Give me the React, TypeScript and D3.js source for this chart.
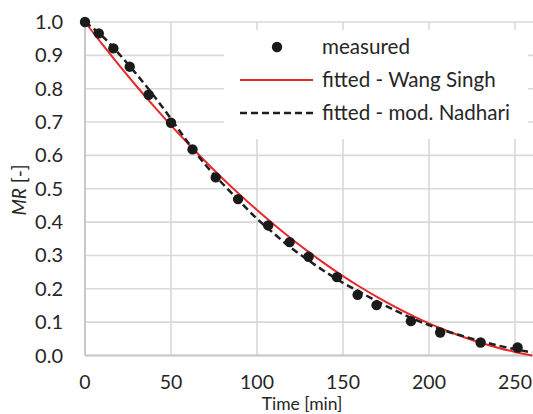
import React from "react";
import * as d3 from "d3";

const measuredTime = [0, 8, 16.5, 26, 37, 50, 62.5, 76, 89, 106.5, 119, 130, 146.5, 158.5, 169.5, 189.5, 206.5, 230, 251.5];
const measuredMR = [1.0, 0.966, 0.921, 0.866, 0.782, 0.698, 0.618, 0.534, 0.469, 0.39, 0.34, 0.296, 0.235, 0.182, 0.151, 0.103, 0.069, 0.039, 0.024];

const fitTime = [0, 10, 20, 30, 40, 50, 60, 70, 80, 90, 100, 110, 120, 130, 140, 150, 160, 170, 180, 190, 200, 210, 220, 230, 240, 250, 260];
const wangSinghMR = [1.0, 0.9335, 0.8693, 0.8073, 0.7475, 0.69, 0.6348, 0.5817, 0.5309, 0.4824, 0.4361, 0.392, 0.3502, 0.3106, 0.2733, 0.2382, 0.2054, 0.1748, 0.1464, 0.1203, 0.0964, 0.0748, 0.0554, 0.0382, 0.0233, 0.0106, 0.0002];
const nadhariMR = [1.0, 0.958, 0.903, 0.843, 0.779, 0.71, 0.638, 0.572, 0.515, 0.462, 0.41, 0.365, 0.322, 0.285, 0.25, 0.218, 0.19, 0.162, 0.136, 0.112, 0.091, 0.073, 0.058, 0.043, 0.03, 0.019, 0.009];

const xTicks = [0, 50, 100, 150, 200, 250];
const yTicks = [0, 0.1, 0.2, 0.3, 0.4, 0.5, 0.6, 0.7, 0.8, 0.9, 1.0];
const legendLabels = ["measured", "fitted - Wang Singh", "fitted - mod. Nadhari"];

const W = 533;
const H = 414;
const FONT = "Lato, 'Open Sans', sans-serif";

export default function App() {
  const x = d3.scaleLinear().domain([0, 260]).range([85, 532.2]);
  const y = d3.scaleLinear().domain([0, 1]).range([355.5, 22]);
  const line = d3
    .line<[number, number]>()
    .x((d) => x(d[0]))
    .y((d) => y(d[1]))
    .curve(d3.curveMonotoneX);
  const wsData = fitTime.map((t, i) => [t, wangSinghMR[i]] as [number, number]);
  const nData = fitTime.map((t, i) => [t, nadhariMR[i]] as [number, number]);
  const grid = "#d9d9d9";
  const lg = { x0: 224, x1: 528, y0: 30, y1: 139 };
  const rowY = [47, 80, 113];
  return (
    <div style={{ position: "fixed", left: 0, top: 0 }}>
      <svg width={W} height={H} style={{ display: "block", background: "#fff" }}>
        {yTicks.map((v) => (
          <line key={"gy" + v} x1={x(0)} x2={W} y1={y(v)} y2={y(v)} stroke={grid} strokeWidth={1.6} />
        ))}
        {xTicks.map((v) => (
          <line key={"gx" + v} x1={x(v)} x2={x(v)} y1={y(0)} y2={y(1)} stroke={grid} strokeWidth={1.6} />
        ))}
        <line x1={x(0)} x2={x(0)} y1={y(0)} y2={y(1)} stroke="#c8c8c8" strokeWidth={2} />
        <line x1={x(0)} x2={W} y1={y(0)} y2={y(0)} stroke="#c8c8c8" strokeWidth={2} />
        <rect x={lg.x0} y={lg.y0} width={lg.x1 - lg.x0} height={lg.y1 - lg.y0} fill="#fff" />
        {yTicks.map((v) => (
          <text key={"ty" + v} x={63} y={y(v)} dy="0.35em" textAnchor="end" fontFamily={FONT} fontSize={20} fill="#262626">
            {v.toFixed(1)}
          </text>
        ))}
        {xTicks.map((v) => (
          <text key={"tx" + v} x={x(v)} y={388.5} textAnchor="middle" fontFamily={FONT} fontSize={19.5} fill="#262626">
            {v}
          </text>
        ))}
        <text x={302} y={410} textAnchor="middle" fontFamily={FONT} fontSize={17.5} fill="#262626">
          Time [min]
        </text>
        <text transform={`translate(19,190) rotate(-90)`} dy="0.35em" textAnchor="middle" fontFamily={FONT} fontSize={19} fill="#262626">
          <tspan fontStyle="italic">MR</tspan> [-]
        </text>
        <path d={line(wsData) || ""} fill="none" stroke="#e8282b" strokeWidth={2} />
        <path d={line(nData) || ""} fill="none" stroke="#1f1f1f" strokeWidth={2.5} strokeDasharray="7,4" />
        {measuredTime.map((t, i) => (
          <circle key={"m" + i} cx={x(t)} cy={y(measuredMR[i])} r={5.2} fill="#1a1a1a" />
        ))}
        <circle cx={277} cy={rowY[0]} r={5.2} fill="#1a1a1a" />
        <line x1={240} x2={313} y1={rowY[1]} y2={rowY[1]} stroke="#e8282b" strokeWidth={2} />
        <line x1={240} x2={313} y1={rowY[2]} y2={rowY[2]} stroke="#1f1f1f" strokeWidth={2.5} strokeDasharray="7,4" />
        {legendLabels.map((l, i) => (
          <text key={l} x={322} y={rowY[i]} dy="0.35em" fontFamily={FONT} fontSize={20.6} fill="#262626">
            {l}
          </text>
        ))}
      </svg>
    </div>
  );
}
